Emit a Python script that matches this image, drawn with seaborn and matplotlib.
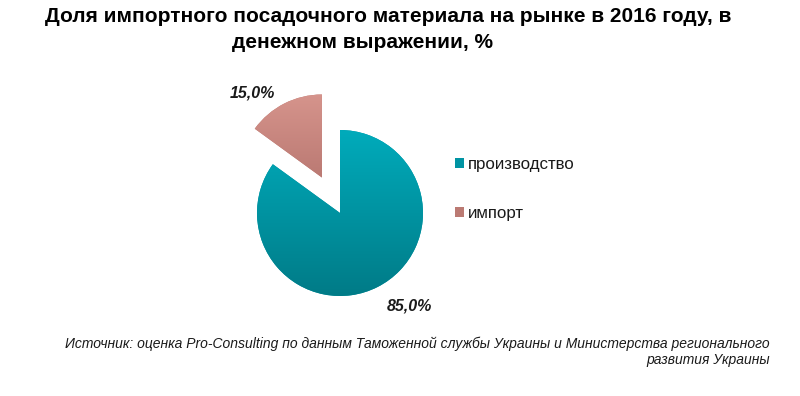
import matplotlib
matplotlib.use('Agg')
import matplotlib.pyplot as plt
import numpy as np
import seaborn as sns
from matplotlib.colors import LinearSegmentedColormap

categories = ['производство', 'импорт']
shares = [85.0, 15.0]
value_labels = ['85,0%', '15,0%']

title_lines = ['Доля импортного посадочного материала на рынке в 2016 году, в',
               'денежном выражении, %']
source = ('Источник: оценка Pro-Consulting по данным Таможенной службы Украины и Министерства регионального\n'
          'развития Украины')

sns.set_theme(style='white')
plt.rcParams['font.family'] = ['Liberation Sans', 'DejaVu Sans']

# top / bottom colours of the gradient fill
grad = [('#00abbb', '#007b87'), ('#d6948c', '#9f5f5a')]
mid = ['#0094a3', '#bb7a73']

fig = plt.figure(figsize=(8, 3.96), dpi=100)
ax = fig.add_axes([174 / 800, 17 / 396, 332 / 800, 332 / 396])

wedges, _ = ax.pie(shares, colors=mid, startangle=90, counterclock=False,
                   explode=[0, 0.48], radius=1, wedgeprops=dict(linewidth=0))

# vertical gradient clipped to each wedge
for w, (top, bot) in zip(wedges, grad):
    cx, cy = w.center
    cmap = LinearSegmentedColormap.from_list('g', [bot, top])
    img = ax.imshow(np.linspace(0, 1, 256).reshape(-1, 1), cmap=cmap, origin='lower',
                    extent=[cx - 1, cx + 1, cy - 1, cy + 1], aspect='auto', zorder=2)
    img.set_clip_path(w)
ax.set_xlim(-2, 2)
ax.set_ylim(-2, 2)
ax.set_aspect('equal')
ax.axis('off')

label_pos = [(0.84, -1.12), (-1.05, 1.45)]
for (lx, ly), txt in zip(label_pos, value_labels):
    ax.text(lx, ly, txt, ha='center', va='center', fontsize=11.5,
            fontweight='bold', fontstyle='italic', color='#1a1a1a', zorder=3)

leg = fig.legend(wedges, categories, loc='center left',
                 bbox_to_anchor=(455 / 800, 1 - 189 / 396), frameon=False,
                 fontsize=12.2, handlelength=0.55, handleheight=0.55, handletextpad=0.2,
                 labelspacing=2.05, borderpad=0, borderaxespad=0)
for t in leg.get_texts():
    t.set_color('#1a1a1a')

fig.text(388 / 800, 1 - 17 / 396, title_lines[0], ha='center', va='center',
         fontsize=15, fontweight='bold', color='black')
fig.text(362 / 800, 1 - 42 / 396, title_lines[1], ha='center', va='center',
         fontsize=15, fontweight='bold', color='black')

fig.text(770 / 800, 1 - 337 / 396, source, ha='right', va='top', fontsize=10,
         fontstyle='italic', multialignment='right', linespacing=1.15, color='#1a1a1a')

fig.savefig('out.png', dpi=100, facecolor='white')
